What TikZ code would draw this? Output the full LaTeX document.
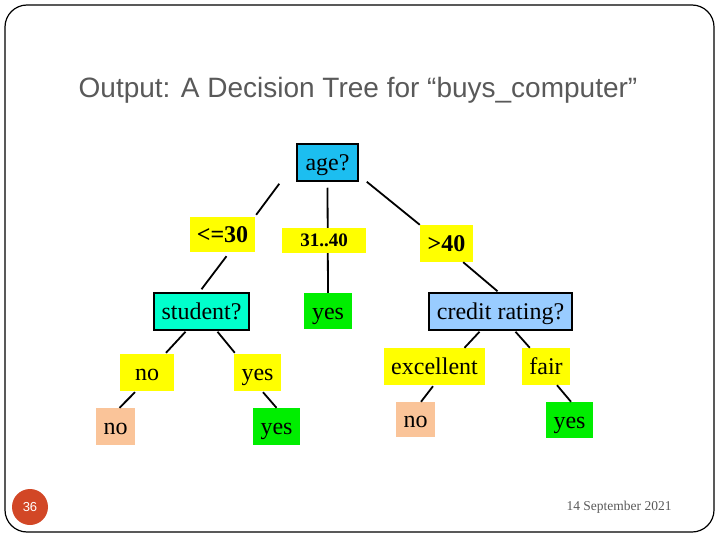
\documentclass[tikz,border=0pt]{standalone}
\usepackage{fontspec}
\setmainfont{Liberation Serif}
\setsansfont{Liberation Sans}
\usepackage{xcolor}
\usepackage{tikz}
\usetikzlibrary{positioning,backgrounds}
\definecolor{Tage}{HTML}{1CBEF0}
\definecolor{Tstudent}{HTML}{00FFCC}
\definecolor{Tcredit}{HTML}{99CCFF}
\definecolor{Tbranch}{HTML}{FFFF00}
\definecolor{Tyes}{HTML}{00EE00}
\definecolor{Tno}{HTML}{FAC499}
\definecolor{Ttitle}{HTML}{595959}
\definecolor{Tnum}{HTML}{D24726}

\begin{document}
\begin{tikzpicture}[
  x=1pt, y=1pt,
  attr/.style  ={draw, line width=1.5pt, inner sep=0pt, minimum height=37pt, text height=16.5pt, text depth=0pt, font=\fontsize{24}{24}\selectfont},
  branch/.style={fill=Tbranch, inner sep=0pt, minimum height=37pt, text height=16.5pt, text depth=0pt, font=\fontsize{24}{24}\selectfont},
  leaf/.style  ={inner sep=0pt, minimum height=37pt, text height=16.5pt, text depth=0pt, font=\fontsize{24}{24}\selectfont},
  edge/.style  ={line width=1.8pt},
]
\useasboundingbox (0,0) rectangle (720,-540);

% ── slide frame, title and footer ────────────────────────────────────
\draw[line width=1.2pt, rounded corners=22pt] (5,-5) rectangle (714,-532);
\node[font=\sffamily\fontsize{28}{28}\selectfont, text=Ttitle] (title) at (358,-90)
  {Output: A Decision Tree for “buys\_computer”};
\node[circle, fill=Tnum, minimum size=36pt, inner sep=0pt,
  text=white, font=\sffamily\fontsize{13}{13}\selectfont] (page) at (30,-507) {36};
\node[text=Ttitle, font=\fontsize{13.5}{13.5}\selectfont] (date) at (619,-507) {14 September 2021};

% ── root: age ────────────────────────────────────────────────────────
\node[attr, fill=Tage, minimum width=61pt] (age) at (327.5,-162.5) {age?};

% ── age branches ─────────────────────────────────────────────────────
\node[branch, minimum width=65pt, minimum height=35pt, font=\bfseries\fontsize{24}{24}\selectfont] (le30) at (222.5,-234.5) {<=30};
\node[branch, minimum width=84pt, minimum height=25pt, text height=12.5pt, font=\bfseries\fontsize{19}{19}\selectfont] (mid) at (324,-240.5) {31..40};
\node[branch, minimum width=53pt, font=\bfseries\fontsize{24}{24}\selectfont] (gt40) at (446.5,-243.5) {>40};

% ── second level ─────────────────────────────────────────────────────
\node[attr, fill=Tstudent, minimum width=95pt] (student) at (201.5,-311.5) {student?};
\node[leaf, fill=Tyes, minimum width=48pt, minimum height=36pt] (yesmid) at (328,-311) {yes};
\node[attr, fill=Tcredit, minimum width=143pt] (credit) at (500.5,-311.5) {credit rating?};

% ── student branches and leaves ──────────────────────────────────────
\node[branch, minimum width=54pt] (stno) at (147,-372.5) {no};
\node[branch, minimum width=47pt] (styes) at (257.5,-372.5) {yes};
\node[leaf, fill=Tno, minimum width=39pt] (leafno) at (115.5,-426.5) {no};
\node[leaf, fill=Tyes, minimum width=47pt] (leafyes) at (276.5,-426.5) {yes};

% ── credit rating branches and leaves ────────────────────────────────
\node[branch, minimum width=101pt] (exc) at (434.5,-366.5) {excellent};
\node[branch, minimum width=48pt] (fair) at (546,-366.5) {fair};
\node[leaf, fill=Tno, minimum width=39pt, minimum height=35pt] (crno) at (415.5,-419.5) {no};
\node[leaf, fill=Tyes, minimum width=47pt, minimum height=36pt] (cryes) at (569.5,-420) {yes};

% ── tree edges ───────────────────────────────────────────────────────
\draw[edge] ([shift={(-17pt,-2pt)}]age.south west) -- ([shift={(1pt,2pt)}]le30.north east);
\begin{scope}[on background layer]
  \draw[edge] ([yshift=-6pt]age.south) -- (yesmid.north);
\end{scope}
\draw[edge] ([xshift=8pt]age.south east) -- (gt40.north west);
\draw[edge] ([shift={(4pt,-4pt)}]le30.south) -- ([yshift=3pt]student.north);
\draw[edge] ([xshift=-10pt]gt40.south east) -- ([shift={(-3pt,1pt)}]credit.north);

\draw[edge] ([shift={(-16pt,-1pt)}]student.south) -- ([shift={(19pt,1pt)}]stno.north);
\draw[edge] ([shift={(16pt,-1pt)}]student.south) -- ([shift={(1pt,1pt)}]styes.north west);
\draw[edge] ([shift={(-12pt,-1pt)}]stno.south) -- ([xshift=4pt]leafno.north);
\draw[edge] ([shift={(5.5pt,-1pt)}]styes.south) -- (leafyes.north);

\draw[edge] ([shift={(-21pt,-1pt)}]credit.south) -- ([xshift=30pt]exc.north);
\draw[edge] ([shift={(15pt,-1pt)}]credit.south) -- ([xshift=8pt]fair.north west);
\draw[edge] ([shift={(-1.5pt,-1pt)}]exc.south) -- ([xshift=5.5pt]crno.north);
\draw[edge] ([xshift=11pt]fair.south) -- ([xshift=1.5pt]cryes.north);

\end{tikzpicture}
\end{document}
